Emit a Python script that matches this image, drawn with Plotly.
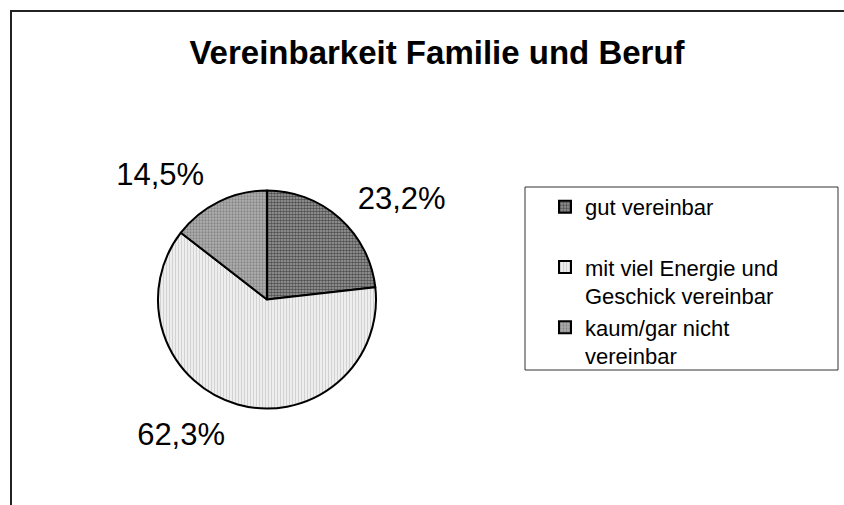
import plotly.graph_objects as go

# ---- data ----
categories = ["gut vereinbar", "mit viel Energie und<br>Geschick vereinbar", "kaum/gar nicht<br>vereinbar"]
values = [23.2, 62.3, 14.5]
value_labels = ["23,2%", "62,3%", "14,5%"]
title_text = "Vereinbarkeit Familie und Beruf"

W, H = 844, 505
FONT = "Liberation Sans, Arial, sans-serif"

# styles
bg_colors = ["#a0a0a0", "#eeeeee", "#b0b0b0"]
fg_colors = ["#000000", "#b0b0b0", "#5a5a5a"]
shapes_pat = [".", "|", "."]
sizes = [3, 3, 3]
solid = [0.55, 0.3, 0.45]

legend_labels = [categories[0] + "<br>\u00a0", categories[1], categories[2]]

cx, cy, r = 267, 299.5, 109
r_lab = 123

fig = go.Figure()
fig.add_trace(go.Pie(
    labels=legend_labels,
    values=values,
    textinfo="none",
    sort=False,
    direction="clockwise",
    rotation=0,
    marker=dict(
        colors=bg_colors,
        line=dict(color="black", width=2),
        pattern=dict(shape=shapes_pat, fgcolor=fg_colors, bgcolor=bg_colors,
                     size=sizes, solidity=solid, fillmode="overlay"),
    ),
    domain=dict(x=[(cx - r) / W, (cx + r) / W], y=[1 - (cy + r) / H, 1 - (cy - r) / H]),
    hoverinfo="skip",
))
# transparent companion pie carrying the outside percentage labels
fig.add_trace(go.Pie(
    labels=legend_labels,
    values=values,
    text=value_labels,
    textinfo="text",
    textposition="outside",
    textfont=dict(family=FONT, size=31, color="black"),
    sort=False,
    direction="clockwise",
    rotation=0,
    showlegend=False,
    marker=dict(colors=["rgba(0,0,0,0)"] * 3, line=dict(width=0)),
    domain=dict(x=[(cx - r_lab) / W, (cx + r_lab) / W], y=[1 - (cy + r_lab) / H, 1 - (cy - r_lab) / H]),
    hoverinfo="skip",
))

fig.update_layout(
    width=W, height=H,
    autosize=False,
    margin=dict(l=0, r=0, t=0, b=0),
    paper_bgcolor="white",
    plot_bgcolor="white",
    title=dict(text="<b>" + title_text + "</b>", x=437 / W, xanchor="center",
               xref="paper", yref="container", y=1 - 52 / H, yanchor="middle",
               font=dict(family=FONT, size=33, color="black")),
    showlegend=True,
    legend=dict(
        x=545 / W, y=1 - 186 / H, xanchor="left", yanchor="top",
        xref="paper", yref="paper",
        font=dict(family=FONT, size=22, color="black"),
        valign="top",
        bgcolor="rgba(0,0,0,0)",
        borderwidth=0,
        traceorder="normal",
    ),
    shapes=[
        # outer chart frame
        dict(type="rect", xref="paper", yref="paper",
             x0=11 / W, y0=1 - 11 / H, x1=1.05, y1=-0.05,
             line=dict(color="#222222", width=2), fillcolor="rgba(0,0,0,0)"),
        # legend frame
        dict(type="rect", xref="paper", yref="paper",
             x0=525 / W, y0=1 - 187 / H, x1=838 / W, y1=1 - 370 / H,
             line=dict(color="#333333", width=1), fillcolor="rgba(0,0,0,0)"),
    ],
)

fig.write_html("out.html", config={"displayModeBar": False},
               post_script="document.body.style.margin='0';")
